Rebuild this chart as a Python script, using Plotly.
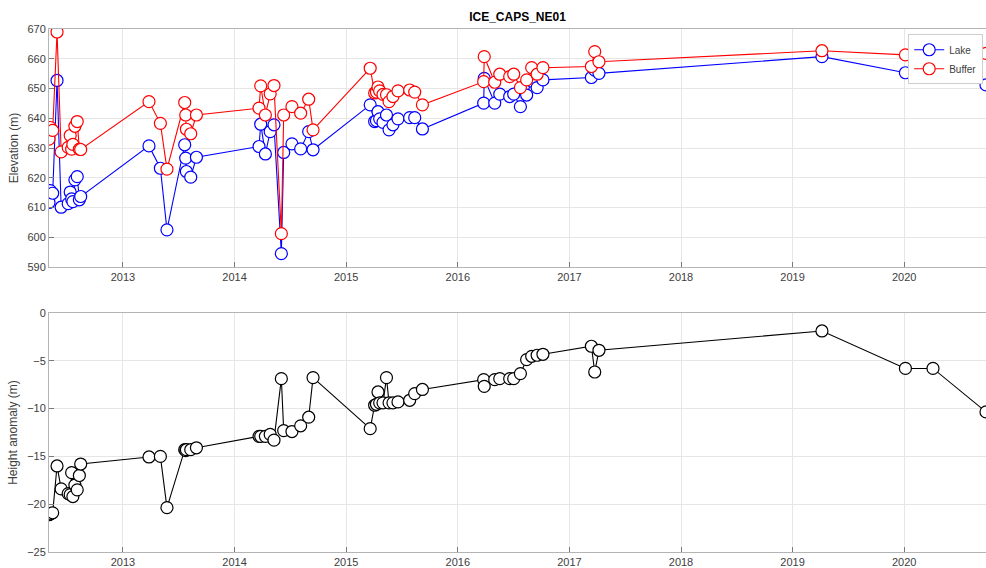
import plotly.graph_objects as go

# Decimal-year acquisition dates
dates = [2012.337, 2012.349, 2012.370, 2012.409, 2012.446, 2012.509, 2012.527, 2012.540,
         2012.551, 2012.569, 2012.590, 2012.609, 2012.621,
         2013.233, 2013.335, 2013.394, 2013.553, 2013.562, 2013.568, 2013.607, 2013.658,
         2014.219, 2014.234, 2014.276, 2014.319, 2014.353, 2014.419, 2014.440, 2014.514,
         2014.592, 2014.664, 2014.703,
         2015.215, 2015.255, 2015.271, 2015.285, 2015.300, 2015.330, 2015.361, 2015.384,
         2015.419, 2015.464, 2015.569, 2015.614, 2015.683,
         2016.232, 2016.237, 2016.331, 2016.376, 2016.465, 2016.501, 2016.561, 2016.617,
         2016.662, 2016.711, 2016.763,
         2017.197, 2017.227, 2017.265,
         2019.263, 2020.011, 2020.258, 2020.733]

lake = [611.7, 615.7, 614.8, 652.7, 610.1, 611.3, 615.2, 612.9,
        612.0, 619.3, 620.4, 612.6, 613.7,
        630.7, 623.2, 602.5, 631.1, 626.6, 622.1, 620.2, 626.9,
        630.5, 638.0, 628.0, 635.5, 637.8, 594.5, 628.5, 631.4,
        629.7, 635.5, 629.4,
        644.5, 638.9, 639.2, 642.2, 639.8, 638.6, 641.1, 636.1,
        637.8, 639.8, 640.2, 640.2, 636.4,
        645.1, 653.4, 645.1, 648.1, 647.3, 648.1, 643.9, 647.8,
        652.5, 650.3, 652.9,
        653.7, 656.2, 655.1,
        660.7, 655.3, 656.2, 651.2]

buffer = [633.0, 636.9, 635.9, 669.0, 628.7, 630.2, 634.2, 629.6,
          631.2, 637.3, 638.9, 629.6, 629.5,
          645.6, 638.3, 622.9, 645.3, 641.1, 636.3, 634.8, 641.1,
          643.4, 650.9, 641.1, 648.2, 651.0, 601.2, 641.1, 643.9,
          641.7, 646.4, 636.1,
          656.8, 648.5, 648.8, 650.5, 649.2, 648.0, 647.9, 645.6,
          647.3, 649.2, 649.5, 648.8, 644.5,
          652.3, 660.7, 652.1, 654.8, 654.0, 654.8, 650.3, 652.9,
          657.0, 654.8, 657.0,
          657.4, 662.4, 659.0,
          662.7, 661.3, 662.0, 661.8]

anomaly = [-21.1, -21.0, -20.9, -16.0, -18.4, -18.9, -19.0, -16.7,
           -19.2, -18.0, -18.5, -17.0, -15.8,
           -15.06, -15.0, -20.36, -14.3, -14.4, -14.3, -14.3, -14.1,
           -12.9, -12.9, -12.9, -12.7, -13.3, -6.87, -12.3, -12.4,
           -11.8, -10.9, -6.76,
           -12.1, -9.65, -9.55, -8.26, -9.4, -9.4, -6.76, -9.4,
           -9.4, -9.3, -9.13, -8.43, -8.0,
           -6.97, -7.67, -6.97, -6.87, -6.87, -6.87, -6.34, -4.88,
           -4.53, -4.42, -4.32,
           -3.48, -6.17, -3.9,
           -1.88, -5.8, -5.8, -10.35]

year_ticks = [2013, 2014, 2015, 2016, 2017, 2018, 2019, 2020]
year_labels = [str(y) for y in year_ticks]
elev_ticks = [590, 600, 610, 620, 630, 640, 650, 660, 670]
anom_ticks = [-25, -20, -15, -10, -5, 0]

FONT = "Liberation Sans, Arial, sans-serif"
TXT = "#404040"
GRID = "#e6e6e6"
AXL = "#b4b4b4"

fig = go.Figure()
mk = dict(symbol="circle", size=12, color="white")
fig.add_trace(go.Scatter(x=dates, y=lake, mode="lines+markers", name="Lake",
                         line=dict(color="#0000ff", width=1.1),
                         marker=dict(**mk, line=dict(color="#0000ff", width=1.2)),
                         xaxis="x", yaxis="y"))
fig.add_trace(go.Scatter(x=dates, y=buffer, mode="lines+markers", name="Buffer",
                         line=dict(color="#ff0000", width=1.1),
                         marker=dict(**mk, line=dict(color="#ff0000", width=1.2)),
                         xaxis="x", yaxis="y"))
fig.add_trace(go.Scatter(x=dates, y=anomaly, mode="lines+markers", name="Anomaly",
                         showlegend=False,
                         line=dict(color="black", width=1.1),
                         marker=dict(**mk, line=dict(color="black", width=1.2)),
                         xaxis="x2", yaxis="y2"))

xr = [min(dates), max(dates)]
common_x = dict(range=xr, tickvals=year_ticks, ticktext=year_labels, showgrid=True,
                gridcolor=GRID, gridwidth=1, zeroline=False, showline=True, linecolor=AXL,
                mirror=True, ticks="inside", ticklen=5, tickcolor="#7a7a7a",
                tickfont=dict(family=FONT, size=11, color=TXT), automargin=False)
common_y = dict(showgrid=True, gridcolor=GRID, gridwidth=1, zeroline=False, showline=True,
                linecolor=AXL, mirror=True, ticks="inside", ticklen=5, tickcolor="#7a7a7a",
                tickfont=dict(family=FONT, size=11, color=TXT), automargin=False)

W, H = 986, 568
fig.update_layout(
    width=W, height=H,
    margin=dict(l=49, r=0, t=29, b=16),
    paper_bgcolor="white", plot_bgcolor="white",
    title=dict(text="<b>ICE_CAPS_NE01</b>", x=517.5 / W, xanchor="center",
               y=1 - 17 / H, yanchor="middle", yref="container",
               font=dict(family=FONT, size=12, color="#000000")),
    xaxis=dict(domain=[0, 1], anchor="y", **common_x),
    yaxis=dict(domain=[0.5449, 1], anchor="x", range=[590, 670], tickvals=elev_ticks,
               title=dict(text="Elevation (m)", standoff=6,
                          font=dict(family=FONT, size=12, color=TXT)),
               **common_y),
    xaxis2=dict(domain=[0, 1], anchor="y2", **common_x),
    yaxis2=dict(domain=[0, 0.4570], anchor="x2", range=[-25, 0], tickvals=anom_ticks,
                title=dict(text="Height anomaly (m)", standoff=6,
                           font=dict(family=FONT, size=12, color=TXT)),
                **common_y),
    legend=dict(x=0.997, y=0.99, xanchor="right", yanchor="top", bgcolor="white",
                bordercolor="#cfcfcf", borderwidth=1,
                font=dict(family=FONT, size=10, color=TXT),
                itemwidth=30, tracegroupgap=0),
    showlegend=True,
)

# Remove the default page margin so the figure sits at the window's top-left corner.
fig.write_html("out.html",
               config={"displayModeBar": False},
               post_script="document.body.style.margin='0';"
                           "document.documentElement.style.overflow='hidden';")
